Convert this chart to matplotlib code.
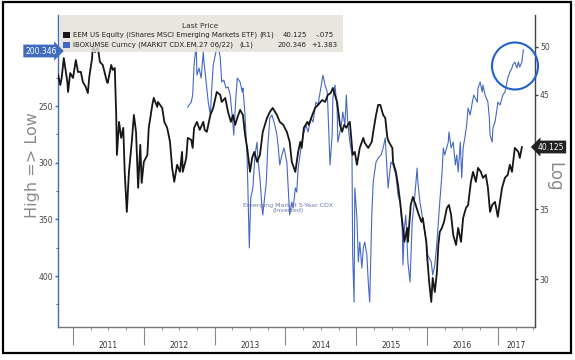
import matplotlib
matplotlib.use("Agg")
import matplotlib.pyplot as plt
from matplotlib.patches import Rectangle, Ellipse
import matplotlib.transforms as mtrans

# ---------------- data ----------------
eem_t = [2010.79, 2010.82, 2010.84, 2010.87, 2010.92, 2010.93, 2010.96, 2011.00, 2011.04, 2011.07,
         2011.11, 2011.14, 2011.18, 2011.21, 2011.23, 2011.27, 2011.28, 2011.31, 2011.35, 2011.38,
         2011.42, 2011.48, 2011.49, 2011.54, 2011.56, 2011.59, 2011.61, 2011.62, 2011.65, 2011.68,
         2011.71, 2011.73, 2011.76, 2011.79, 2011.83, 2011.86, 2011.89, 2011.92, 2011.95, 2011.97,
         2012.00, 2012.05, 2012.07, 2012.12, 2012.14, 2012.19, 2012.20, 2012.26, 2012.29, 2012.33,
         2012.37, 2012.40, 2012.43, 2012.47, 2012.51, 2012.54, 2012.55, 2012.60, 2012.62, 2012.67,
         2012.69, 2012.71, 2012.75, 2012.79, 2012.84, 2012.86, 2012.89, 2012.94, 2012.98, 2013.03,
         2013.08, 2013.10, 2013.15, 2013.19, 2013.23, 2013.26, 2013.29, 2013.32, 2013.36, 2013.40,
         2013.43, 2013.46, 2013.50, 2013.53, 2013.56, 2013.60, 2013.64, 2013.68, 2013.74, 2013.78,
         2013.82, 2013.88, 2013.92, 2013.97, 2014.02, 2014.06, 2014.09, 2014.14, 2014.18, 2014.21,
         2014.23, 2014.26, 2014.31, 2014.33, 2014.38, 2014.42, 2014.46, 2014.52, 2014.56, 2014.60,
         2014.64, 2014.67, 2014.73, 2014.77, 2014.80, 2014.83, 2014.86, 2014.88, 2014.91, 2014.95,
         2014.98, 2015.01, 2015.05, 2015.10, 2015.12, 2015.17, 2015.22, 2015.24, 2015.28, 2015.31,
         2015.34, 2015.38, 2015.41, 2015.44, 2015.46, 2015.51, 2015.52, 2015.56, 2015.59, 2015.62,
         2015.65, 2015.68, 2015.72, 2015.73, 2015.77, 2015.80, 2015.84, 2015.87, 2015.92, 2015.94,
         2015.99, 2016.00, 2016.03, 2016.06, 2016.08, 2016.11, 2016.14, 2016.16, 2016.18, 2016.21,
         2016.24, 2016.28, 2016.31, 2016.34, 2016.37, 2016.41, 2016.44, 2016.48, 2016.51, 2016.55,
         2016.58, 2016.62, 2016.65, 2016.69, 2016.72, 2016.76, 2016.79, 2016.83, 2016.86, 2016.89,
         2016.92, 2016.96, 2017.00, 2017.03, 2017.06, 2017.10, 2017.14, 2017.17, 2017.20, 2017.24,
         2017.29, 2017.31, 2017.34]
eem_v = [47.02, 45.99, 46.71, 48.80, 46.30, 45.29, 47.22, 46.71, 48.59, 47.33,
         47.33, 46.30, 45.79, 45.19, 46.81, 48.80, 50.22, 49.45, 50.00, 48.38,
         48.06, 46.30, 46.20, 48.06, 47.54, 47.74, 43.06, 39.44, 42.41, 40.94,
         41.86, 38.00, 34.80, 38.00, 40.59, 43.06, 41.49, 36.69, 40.32, 37.09,
         38.84, 39.44, 41.86, 44.02, 44.70, 43.82, 44.31, 43.73, 42.41, 41.86,
         40.59, 38.33, 37.18, 38.59, 38.00, 39.70, 38.00, 39.18, 40.94, 40.76,
         40.05, 41.86, 42.41, 41.67, 42.41, 41.67, 41.49, 43.06, 43.73, 45.29,
         45.00, 44.31, 44.70, 43.34, 42.41, 43.06, 42.13, 42.78, 43.54, 43.06,
         41.21, 40.05, 38.00, 39.18, 39.70, 38.84, 39.44, 41.49, 42.78, 43.34,
         43.73, 43.06, 42.41, 42.13, 41.49, 40.59, 38.84, 38.00, 39.70, 40.59,
         40.05, 41.86, 42.41, 42.13, 43.06, 43.73, 44.02, 44.50, 44.31, 45.00,
         45.19, 45.69, 44.31, 42.13, 41.49, 42.13, 41.86, 42.13, 42.41, 39.44,
         39.70, 38.59, 40.05, 40.94, 40.50, 40.05, 40.59, 41.49, 43.06, 44.02,
         44.02, 43.06, 42.78, 40.94, 40.59, 40.05, 38.84, 38.00, 36.93, 35.57,
         34.04, 32.58, 33.59, 32.58, 35.33, 35.96, 35.33, 34.80, 34.04, 34.34,
         32.58, 31.66, 29.84, 28.55, 30.10, 29.18, 30.50, 32.36, 33.30, 33.59,
         34.04, 35.10, 35.33, 34.57, 33.08, 32.36, 33.59, 32.58, 34.34, 35.10,
         35.33, 37.18, 38.00, 37.18, 38.33, 38.00, 37.50, 37.75, 36.69, 34.80,
         35.33, 35.57, 34.42, 35.57, 36.69, 37.50, 37.75, 38.59, 38.00, 40.05,
         39.70, 39.18, 40.125]

cdx_t = [2012.62, 2012.67, 2012.69, 2012.71, 2012.74, 2012.75, 2012.78, 2012.81, 2012.84, 2012.85,
         2012.88, 2012.91, 2012.94, 2012.96, 2012.98, 2013.01, 2013.03, 2013.05, 2013.08, 2013.10,
         2013.13, 2013.16, 2013.19, 2013.22, 2013.26, 2013.27, 2013.30, 2013.32, 2013.36, 2013.39,
         2013.40, 2013.43, 2013.46, 2013.49, 2013.51, 2013.54, 2013.57, 2013.60, 2013.61, 2013.64,
         2013.67, 2013.68, 2013.73, 2013.75, 2013.78, 2013.81, 2013.85, 2013.88, 2013.90, 2013.92,
         2013.95, 2013.98, 2014.02, 2014.04, 2014.06, 2014.09, 2014.11, 2014.14, 2014.16, 2014.18,
         2014.22, 2014.25, 2014.29, 2014.32, 2014.36, 2014.39, 2014.43, 2014.46, 2014.50, 2014.53,
         2014.56, 2014.59, 2014.60, 2014.63, 2014.66, 2014.67, 2014.70, 2014.73, 2014.74, 2014.79,
         2014.81, 2014.84, 2014.86, 2014.88, 2014.91, 2014.94, 2014.95, 2014.97, 2014.98, 2015.01,
         2015.03, 2015.05, 2015.08, 2015.10, 2015.12, 2015.15, 2015.17, 2015.19, 2015.22, 2015.24,
         2015.28, 2015.31, 2015.35, 2015.38, 2015.41, 2015.44, 2015.45, 2015.49, 2015.52, 2015.56,
         2015.59, 2015.62, 2015.65, 2015.66, 2015.68, 2015.70, 2015.73, 2015.76, 2015.79, 2015.82,
         2015.86, 2015.87, 2015.90, 2015.93, 2015.96, 2015.99, 2016.01, 2016.06, 2016.08, 2016.11,
         2016.14, 2016.16, 2016.18, 2016.21, 2016.23, 2016.25, 2016.30, 2016.31, 2016.34, 2016.37,
         2016.40, 2016.42, 2016.44, 2016.47, 2016.49, 2016.51, 2016.54, 2016.56, 2016.58, 2016.61,
         2016.64, 2016.66, 2016.71, 2016.72, 2016.75, 2016.78, 2016.79, 2016.82, 2016.86, 2016.88,
         2016.89, 2016.92, 2016.93, 2016.96, 2016.99, 2017.00, 2017.03, 2017.06, 2017.07, 2017.10,
         2017.13, 2017.14, 2017.17, 2017.20, 2017.21, 2017.24, 2017.27, 2017.29, 2017.31, 2017.34,
         2017.36]
cdx_v = [250.9, 246.5, 240.3, 213.8, 196.2, 222.7, 216.5, 225.3, 202.4, 211.2,
         228.8, 246.5, 257.9, 234.1, 213.8, 205.0, 198.8, 196.2, 207.7, 228.8,
         227.1, 234.1, 233.2, 240.3, 266.8, 275.6, 242.9, 225.3, 228.8, 237.7,
         234.1, 257.9, 297.0, 375.2, 331.1, 322.3, 293.2, 281.8, 295.9, 313.5,
         340.0, 346.1, 317.0, 287.0, 260.6, 257.9, 266.8, 275.6, 287.0, 302.0,
         293.2, 287.0, 299.4, 322.3, 346.1, 334.7, 340.0, 322.3, 325.9, 304.7,
         287.0, 275.6, 266.8, 272.9, 260.6, 264.1, 246.5, 249.1, 234.1, 222.7,
         231.5, 237.7, 251.8, 302.0, 275.6, 242.9, 231.5, 251.8, 281.8, 266.8,
         255.3, 266.8, 240.3, 264.1, 281.8, 293.2, 381.4, 422.9, 322.3, 348.8,
         387.6, 370.0, 392.9, 375.2, 370.0, 381.4, 405.2, 422.9, 346.1, 317.0,
         299.4, 295.9, 293.2, 287.0, 278.2, 310.9, 322.3, 299.4, 302.0, 310.9,
         328.5, 334.7, 357.6, 390.2, 357.6, 346.1, 387.6, 405.2, 352.3, 334.7,
         304.7, 317.0, 334.7, 346.1, 357.6, 370.0, 381.4, 387.6, 399.1, 390.2,
         370.0, 352.3, 334.7, 310.9, 287.0, 293.2, 281.8, 272.9, 287.0, 281.8,
         302.0, 293.2, 308.2, 281.8, 313.5, 287.0, 275.6, 266.8, 251.8, 257.9,
         246.5, 240.3, 246.5, 234.1, 228.8, 237.7, 231.5, 240.3, 246.5, 260.6,
         275.6, 281.8, 269.4, 264.1, 251.8, 246.5, 249.1, 242.9, 240.3, 237.7,
         228.8, 225.3, 220.0, 216.5, 213.8, 211.2, 216.5, 211.2, 215.6, 211.2,
         200.346]

years = [2011, 2012, 2013, 2014, 2015, 2016, 2017]
year_labels = ["2011", "2012", "2013", "2014", "2015", "2016", "2017"]
left_ticks = [250, 300, 350, 400]
left_minor = [225, 275, 325, 375, 425]
right_ticks = [30, 35, 40, 45, 50]
right_tick_labels = ["30", "35", "", "45", "50"]   # "40" is hidden behind the last-price tag

legend_rows = [
    ("EEM US Equity (iShares MSCI Emerging Markets ETF)", "(R1)", "40.125", "-.075"),
    ("IBOXUMSE Curncy (MARKIT CDX.EM.27 06/22)", "(L1)", "200.346", "+1.383"),
]

# ---------------- styling ----------------
BLUE = "#4468c4"
BLACK = "#161616"
GREY = "#8a8a8a"
W, H = 575, 360

fig = plt.figure(figsize=(5.75, 3.6), dpi=100)
fig.patch.set_facecolor("white")

def fx(px):
    return px / W

def fy(py):
    return 1 - py / H

ax = fig.add_axes([fx(58), fy(327), fx(535) - fx(58), fy(15) - fy(327)])
ax2 = ax.twinx()

x0, x1 = 2010.788, 2017.525
ax.set_xlim(x0, x1)
ax.set_ylim(444.9, 169.7)
ax2.set_yscale("log")
ax2.set_ylim(27.02, 53.64)

ax.plot(cdx_t, cdx_v, color=BLUE, lw=0.8)
ax2.plot(eem_t, eem_v, color=BLACK, lw=1.3)

# spines
for a in (ax, ax2):
    a.spines["top"].set_visible(False)
ax.spines["left"].set_color(BLUE)
ax.spines["left"].set_linewidth(1.0)
ax.spines["right"].set_visible(False)
ax2.spines["left"].set_visible(False)
ax2.spines["right"].set_color("#444444")
ax2.spines["right"].set_linewidth(1.0)
ax2.spines["bottom"].set_visible(False)
ax.spines["bottom"].set_color("#777777")
ax.spines["bottom"].set_linewidth(1.0)

# left ticks
ax.set_yticks(left_ticks)
ax.set_yticklabels([str(v) for v in left_ticks])
ax.set_yticks(left_minor, minor=True)
ax.tick_params(axis="y", which="major", direction="out", length=2.5, width=1,
               color=BLUE, labelsize=5.5, labelcolor="#444444", pad=1)
ax.tick_params(axis="y", which="minor", direction="out", length=1.5, width=0.8, color=BLUE)

# right ticks
ax2.yaxis.set_minor_locator(matplotlib.ticker.NullLocator())
ax2.set_yticks(right_ticks)
ax2.set_yticklabels(right_tick_labels)
ax2.tick_params(axis="y", which="major", direction="out", length=2.5, width=1,
                color="#444444", labelsize=5.5, labelcolor="#444444", pad=1)

# x ticks: long separators at years, quarterly minor ticks
ax.set_xticks(years)
ax.set_xticklabels([""] * len(years))
quarters = [y + q for y in [2010, 2011, 2012, 2013, 2014, 2015, 2016, 2017] for q in (0.25, 0.5, 0.75)]
quarters = [q for q in quarters if x0 < q < x1]
ax.set_xticks(quarters, minor=True)
ax.tick_params(axis="x", which="major", direction="out", length=13, width=0.8, color="#888888")
ax.tick_params(axis="x", which="minor", direction="out", length=2, width=0.6, color="#888888")

trans = mtrans.blended_transform_factory(ax.transData, ax.transAxes)
centers = [y + 0.5 for y in years[:-1]] + [(years[-1] + x1) / 2]
for c, lab in zip(centers, year_labels):
    ax.text(c, -0.058, lab, transform=trans, ha="center", va="center",
            fontsize=5.5, color="#333333")

# axis titles
fig.text(fx(32), fy(165), "High => Low", rotation=90, ha="center", va="center",
         fontsize=11.5, color=GREY)
fig.text(fx(554), fy(177), "Log", rotation=270, ha="center", va="center",
         fontsize=12, color=GREY)

# annotation
ax.text(2014.04, 340, "Emerging Market 5-Year CDX\n(Inverted)", ha="center", va="center",
        fontsize=4.5, color="#6a78b0", linespacing=1.2)

# legend box
LFS = 5.0
fig.patches.append(Rectangle((fx(60), fy(52)), fx(343) - fx(60), fy(15) - fy(52),
                             transform=fig.transFigure, facecolor="#e4e2d8", alpha=0.85,
                             edgecolor="none", zorder=5))
fig.text(fx(200), fy(26), "Last Price", ha="center", va="center", fontsize=5.4,
         color="#333333", zorder=6)
for i, (name, axis_tag, last, chg) in enumerate(legend_rows):
    yy = fy(35 + 10 * i)
    col = BLACK if i == 0 else BLUE
    fig.patches.append(Rectangle((fx(63), yy - 3.2 / H), 6.5 / W, 6.5 / H,
                                 transform=fig.transFigure, facecolor=col,
                                 edgecolor="none", zorder=6))
    fig.text(fx(73), yy, name, ha="left", va="center", fontsize=LFS, color="#222222", zorder=6)
    fig.text(fx(274) if i == 0 else fx(253), yy, axis_tag, ha="right", va="center",
             fontsize=LFS, color="#222222", zorder=6)
    fig.text(fx(307), yy, last, ha="right", va="center", fontsize=LFS, color="#222222", zorder=6)
    fig.text(fx(316) if i == 0 else fx(311), yy, chg, ha="left", va="center",
             fontsize=LFS, color="#222222", zorder=6)

# last-value tags
fig.text(fx(41), fy(51), "200.346", ha="center", va="center", fontsize=5.5, color="white",
         bbox=dict(boxstyle="rarrow,pad=0.25", facecolor="#3f6cc0", edgecolor="none"), zorder=7)
fig.text(fx(551), fy(147), "40.125", ha="center", va="center", fontsize=5.5, color="white",
         bbox=dict(boxstyle="larrow,pad=0.25", facecolor="#222222", edgecolor="none"), zorder=7)

# hand-drawn circle
fig.patches.append(Ellipse((fx(515), fy(66)), 46 / W, 47 / H, angle=0,
                           transform=fig.transFigure, facecolor="none",
                           edgecolor="#1f62c9", lw=1.5, zorder=8))

# outer frame
fig.patches.append(Rectangle((fx(3), fy(353)), fx(571) - fx(3), fy(2) - fy(353),
                             transform=fig.transFigure, facecolor="none",
                             edgecolor="black", lw=1.6, zorder=9))

fig.savefig("out.png", dpi=100, facecolor="white")
